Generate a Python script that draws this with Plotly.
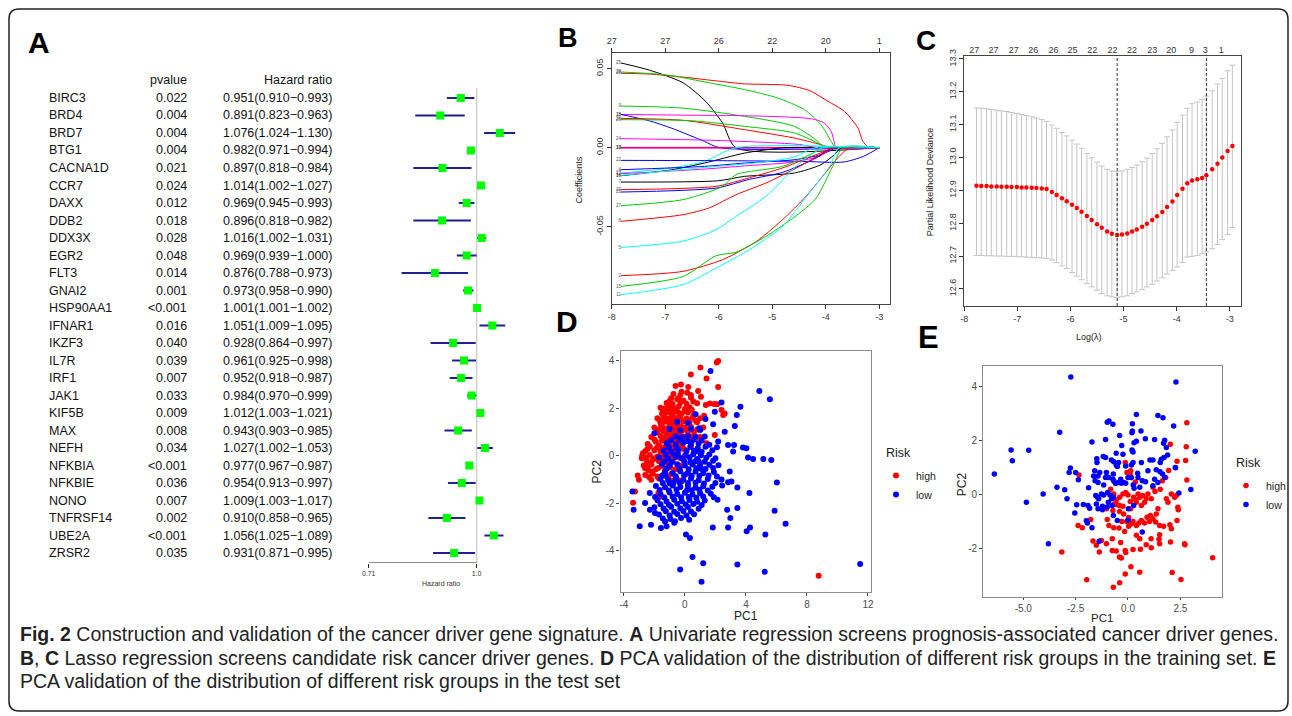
import plotly.graph_objects as go

W, H = 1292, 716
def PX(x): return x / W
def PY(y): return 1 - y / H

FONT = "Arial, 'Liberation Sans', sans-serif"

# ---------------- Panel A : univariate Cox forest plot ----------------
genes = ["BIRC3", "BRD4", "BRD7", "BTG1", "CACNA1D", "CCR7", "DAXX", "DDB2", "DDX3X", "EGR2",
         "FLT3", "GNAI2", "HSP90AA1", "IFNAR1", "IKZF3", "IL7R", "IRF1", "JAK1", "KIF5B", "MAX",
         "NEFH", "NFKBIA", "NFKBIE", "NONO", "TNFRSF14", "UBE2A", "ZRSR2"]
pvalues = ["0.022", "0.004", "0.004", "0.004", "0.021", "0.024", "0.012", "0.018", "0.028", "0.048",
           "0.014", "0.001", "<0.001", "0.016", "0.040", "0.039", "0.007", "0.033", "0.009", "0.008",
           "0.034", "<0.001", "0.036", "0.007", "0.002", "<0.001", "0.035"]
hr = [0.951, 0.891, 1.076, 0.982, 0.897, 1.014, 0.969, 0.896, 1.016, 0.969, 0.876, 0.973, 1.001, 1.051,
      0.928, 0.961, 0.952, 0.984, 1.012, 0.943, 1.027, 0.977, 0.954, 1.009, 0.910, 1.056, 0.931]
hr_lo = [0.910, 0.823, 1.024, 0.971, 0.818, 1.002, 0.945, 0.818, 1.002, 0.939, 0.788, 0.958, 1.001, 1.009,
         0.864, 0.925, 0.918, 0.970, 1.003, 0.903, 1.002, 0.967, 0.913, 1.003, 0.858, 1.025, 0.871]
hr_hi = [0.993, 0.963, 1.130, 0.994, 0.984, 1.027, 0.993, 0.982, 1.031, 1.000, 0.973, 0.990, 1.002, 1.095,
         0.997, 0.998, 0.987, 0.999, 1.021, 0.985, 1.053, 0.987, 0.997, 1.017, 0.965, 1.089, 0.995]
forest_ticks = [0.71, 1.0]
forest_ticktext = ["0.71", "1.0"]

# ---------------- Panel B : lasso coefficient paths ----------------
lasso_top_x = [-8, -7, -6, -5, -4, -3]
lasso_top_df = ["27", "27", "26", "22", "20", "1"]
lasso_labels = ["25", "28", "28", "9", "18", "18", "26", "26", "24", "19", "13", "10",
                "17", "16", "7", "22", "4", "12", "20", "23", "27", "8", "5", "2", "15", "11", "14"]
lasso_colors = ["#000000", "#FF0000", "#00CD00", "#00CD00", "#FF00FF", "#0000FF", "#FF0000", "#00CD00",
                "#FF00FF", "#000000", "#FF0000", "#FF00FF", "#00FFFF", "#000000", "#000000", "#0000FF",
                "#0000FF", "#FF00FF", "#FF0000", "#0000FF", "#00CD00", "#FF0000", "#00FFFF", "#FF0000",
                "#00CD00", "#00FFFF", "#00FFFF"]
lasso_x = [
    [-7.83, -7.30, -6.67, -6.24, -5.93, -5.68, -3.0],
    [-7.83, -7.30, -6.67, -6.0, -5.52, -4.71, -4.3, -3.96, -3.65, -3.40, -3.31, -3.22, -3.17, -3.0],
    [-7.83, -6.99, -6.18, -5.52, -4.90, -4.40, -4.09, -3.90, -3.81, -3.0],
    [-7.83, -6.67, -5.52, -4.59, -4.15, -4.03, -3.0],
    [-7.83, -6.5, -5.52, -4.28, -4.03, -3.90, -3.84, -3.81, -3.0],
    [-7.83, -7.30, -6.89, -6.27, -5.99, -3.0],
    [-7.83, -6.67, -5.52, -4.59, -4.09, -3.90, -3.0],
    [-7.83, -6.5, -5.52, -4.59, -4.09, -4.0, -3.0],
    [-7.83, -6.05, -4.49, -4.18, -3.0],
    [-7.83, -3.0],
    [-7.83, -3.0],
    [-7.83, -3.0],
    [-7.83, -6.89, -6.27, -5.68, -3.0],
    [-7.83, -6.89, -6.27, -5.52, -5.0, -4.78, -3.0],
    [-7.83, -6.02, -5.52, -4.59, -4.09, -3.84, -3.71, -3.0],
    [-7.83, -6.0, -4.5, -3.66, -3.3, -3.0],
    [-7.83, -6.27, -5.52, -4.59, -4.09, -3.78, -3.0],
    [-7.83, -6.27, -5.52, -4.59, -4.09, -3.87, -3.0],
    [-7.83, -6.05, -5.43, -4.81, -4.18, -3.81, -3.0],
    [-7.83, -6.05, -5.43, -4.81, -4.18, -3.87, -3.0],
    [-7.83, -6.67, -5.93, -5.68, -4.81, -4.18, -4.06, -3.0],
    [-7.83, -6.67, -6.18, -5.68, -5.12, -4.49, -4.06, -3.87, -3.0],
    [-7.83, -6.67, -6.05, -5.68, -5.12, -4.49, -4.18, -4.06, -3.0],
    [-7.83, -6.67, -5.93, -5.30, -4.81, -4.37, -4.06, -3.75, -3.56, -3.0],
    [-7.83, -6.67, -6.05, -5.68, -5.12, -4.49, -4.18, -3.87, -3.68, -3.0],
    [-7.83, -6.67, -6.05, -5.43, -4.81, -4.31, -3.93, -3.75, -3.0],
    [-7.83, -6.27, -5.34, -4.6, -4.2, -3.0],
]
lasso_y = [
    [0.0535, 0.049, 0.041, 0.029, 0.0156, 0.0, 0.0],
    [0.047, 0.0465, 0.0446, 0.042, 0.0403, 0.0394, 0.036, 0.0293, 0.0229, 0.0124, 0.004, 0.0008, 0.0, 0.0],
    [0.0478, 0.046, 0.041, 0.0367, 0.0314, 0.024, 0.0145, 0.004, 0.0, 0.0],
    [0.0263, 0.025, 0.0198, 0.0135, 0.004, 0.0, 0.0],
    [0.021, 0.0205, 0.0202, 0.0183, 0.0156, 0.0103, 0.003, 0.0, 0.0],
    [0.021, 0.017, 0.0124, 0.004, 0.0, 0.0],
    [0.0185, 0.0173, 0.0114, 0.0061, 0.0019, 0.0, 0.0],
    [0.0177, 0.017, 0.0135, 0.0093, 0.0019, 0.0, 0.0],
    [0.0057, 0.0046, 0.002, 0.0, 0.0],
    [0.0, 0.0],
    [0.0002, 0.0002],
    [-0.0002, -0.0002],
    [-0.016, -0.0128, -0.0087, 0.0, 0.0],
    [-0.0177, -0.0140, -0.0097, -0.0034, -0.0008, 0.0, 0.0],
    [-0.0217, -0.0209, -0.0181, -0.016, -0.0107, -0.0044, 0.0, 0.0],
    [-0.008, -0.0082, -0.0086, -0.009, -0.0055, 0.0],
    [-0.0139, -0.0118, -0.0097, -0.0076, -0.0044, 0.0, 0.0],
    [-0.0164, -0.0135, -0.0115, -0.009, -0.005, 0.0, 0.0],
    [-0.0265, -0.0244, -0.019, -0.0128, -0.0044, 0.0, 0.0],
    [-0.028, -0.0255, -0.020, -0.0156, -0.0065, 0.0, 0.0],
    [-0.0366, -0.0328, -0.0244, -0.017, -0.0118, -0.0023, 0.0, 0.0],
    [-0.0465, -0.0423, -0.038, -0.0297, -0.0223, -0.0118, -0.0034, 0.0, 0.0],
    [-0.063, -0.059, -0.0518, -0.0434, -0.0307, -0.0097, -0.0023, 0.0, 0.0],
    [-0.0808, -0.0781, -0.0707, -0.0592, -0.0455, -0.0307, -0.0181, -0.0055, 0.0, 0.0],
    [-0.0876, -0.0813, -0.0682, -0.066, -0.056, -0.0413, -0.0318, -0.0118, 0.0, 0.0],
    [-0.0928, -0.0865, -0.076, -0.0644, -0.0497, -0.0286, -0.0118, 0.0, 0.0],
    [-0.0175, -0.0125, -0.0097, -0.006, 0.0, 0.0],
]

# ---------------- Panel C : cross-validation curve ----------------
cv_loglam = [-7.77, -7.68, -7.58, -7.49, -7.39, -7.30, -7.20, -7.11, -7.01, -6.92, -6.83, -6.73, -6.64,
             -6.54, -6.45, -6.35, -6.26, -6.16, -6.07, -5.97, -5.88, -5.79, -5.69, -5.60, -5.50, -5.41,
             -5.31, -5.22, -5.12, -5.03, -4.93, -4.84, -4.75, -4.65, -4.56, -4.46, -4.37, -4.27, -4.18,
             -4.08, -3.99, -3.89, -3.80, -3.71, -3.61, -3.52, -3.44, -3.33, -3.23, -3.14, -3.04, -2.95]
cv_mean = [12.914, 12.913, 12.913, 12.912, 12.912, 12.911, 12.911, 12.910, 12.910, 12.909, 12.909, 12.908,
           12.907, 12.906, 12.904, 12.895, 12.886, 12.876, 12.867, 12.856, 12.846, 12.835, 12.822, 12.810,
           12.797, 12.786, 12.775, 12.768, 12.764, 12.766, 12.769, 12.775, 12.781, 12.789, 12.798, 12.810,
           12.821, 12.834, 12.849, 12.866, 12.886, 12.905, 12.922, 12.930, 12.934, 12.938, 12.946, 12.964,
           12.981, 13.000, 13.020, 13.035]
cv_upper = [13.151, 13.150, 13.148, 13.146, 13.144, 13.142, 13.140, 13.137, 13.134, 13.131, 13.128, 13.124,
            13.120, 13.116, 13.110, 13.099, 13.089, 13.076, 13.066, 13.053, 13.041, 13.028, 13.012, 12.999,
            12.986, 12.974, 12.964, 12.959, 12.957, 12.959, 12.964, 12.970, 12.977, 12.987, 12.998, 13.012,
            13.027, 13.043, 13.063, 13.084, 13.107, 13.129, 13.150, 13.164, 13.169, 13.177, 13.187, 13.203,
            13.224, 13.241, 13.264, 13.281]
cv_lower = [12.702, 12.702, 12.701, 12.701, 12.700, 12.700, 12.699, 12.699, 12.698, 12.698, 12.697, 12.696,
            12.695, 12.694, 12.693, 12.688, 12.680, 12.670, 12.662, 12.650, 12.639, 12.628, 12.616, 12.606,
            12.596, 12.586, 12.579, 12.576, 12.574, 12.576, 12.579, 12.586, 12.591, 12.598, 12.606, 12.614,
            12.624, 12.634, 12.645, 12.657, 12.667, 12.681, 12.697, 12.699, 12.702, 12.707, 12.713, 12.722,
            12.735, 12.750, 12.765, 12.787]
cv_top_x = [-7.81, -7.45, -7.07, -6.70, -6.32, -5.96, -5.59, -5.21, -4.84, -4.46, -4.10, -3.72, -3.46, -3.16]
cv_top_nz = ["27", "27", "27", "26", "26", "25", "22", "22", "22", "23", "20", "9", "3", "1"]
lambda_min = -5.12
lambda_1se = -3.44

# ---------------- Panel D : PCA training set ----------------
D_high = [
    (-1.6, 2.02), (-1.3, 1.95), (-1.0, 2.05), (-0.7, 1.98), (-0.4, 2.08), (0.0, 1.97), (0.3, 2.04),
    (-1.5, 1.78), (-1.1, 1.83), (-0.8, 1.76), (-0.5, 1.85), (-0.2, 1.79), (0.2, 1.82), (0.6, 1.75),
    (-1.8, 1.58), (-1.4, 1.63), (-1.2, 1.55), (-0.9, 1.62), (-0.6, 1.57), (-0.3, 1.64), (0.1, 1.56),
    (0.5, 1.61), (1.0, 1.58), (-1.6, 1.38), (-1.3, 1.43), (-1.0, 1.36), (-0.8, 1.42), (-0.5, 1.37),
    (-0.1, 1.44), (0.3, 1.39), (0.8, 1.41), (-2.0, 1.18), (-1.5, 1.23), (-1.1, 1.16), (-0.9, 1.22),
    (-0.6, 1.17), (-0.3, 1.24), (0.0, 1.19), (0.4, 1.21), (1.2, 1.18), (-1.8, 0.98), (-1.4, 1.03),
    (-1.2, 0.96), (-0.8, 1.02), (-0.5, 0.97), (-0.2, 1.04), (0.2, 0.99), (0.6, 1.01), (-2.2, 0.78),
    (-1.6, 0.83), (-1.3, 0.76), (-1.0, 0.82), (-0.7, 0.77), (-0.4, 0.84), (-0.1, 0.79), (0.5, 0.81),
    (1.0, 0.78), (-1.9, 0.58), (-1.5, 0.63), (-1.1, 0.56), (-0.9, 0.62), (-0.6, 0.57), (-0.3, 0.64),
    (0.3, 0.59), (-2.3, 0.38), (-1.7, 0.43), (-1.3, 0.36), (-1.0, 0.42), (-0.7, 0.37), (-0.2, 0.44),
    (0.4, 0.39), (-2.6, 0.18), (-2.0, 0.23), (-1.6, 0.16), (-1.2, 0.22), (-0.9, 0.17), (-0.5, 0.24),
    (0.1, 0.19), (-2.8, -0.02), (-2.3, 0.03), (-1.8, -0.04), (-1.4, 0.02), (-1.0, -0.03), (-0.6, 0.04),
    (0.0, -0.01), (-2.5, -0.22), (-2.1, -0.17), (-1.7, -0.24), (-1.2, -0.18), (-0.8, -0.23),
    (-2.7, -0.42), (-2.2, -0.37), (-1.5, -0.44), (-1.1, -0.38), (-0.3, -0.43), (-2.4, -0.62),
    (-1.9, -0.57), (-1.3, -0.64), (-0.6, -0.58), (-2.6, -0.82), (-2.1, -0.77), (-1.4, -0.84),
    (-0.9, -0.78), (-2.2, -1.02), (-1.7, -0.97), (-0.4, -1.04), (-1.2, 2.22), (-0.8, 2.18),
    (-0.3, 2.24), (0.1, 2.19), (0.8, 2.21), (-0.9, 2.42), (-0.5, 2.38), (0.4, 2.44), (-1.35, 1.7),
    (-0.95, 1.5), (-0.75, 1.3), (-1.25, 1.1), (-0.65, 0.9), (-1.15, 0.7), (-0.45, 0.5), (-1.45, 0.3),
    (-0.85, 1.9), (-0.35, 1.7),
    (-1.45, 1.9), (-1.15, 1.88), (-0.55, 1.92), (0.05, 1.87), (0.45, 1.93),
    (-1.65, 1.49), (-1.05, 1.52), (-0.45, 1.47), (0.25, 1.51), (0.7, 1.48),
    (-1.75, 1.08), (-1.35, 1.12), (-0.95, 1.07), (-0.4, 1.13), (0.1, 1.09), (0.8, 1.1),
    (-2.0, 0.68), (-1.45, 0.72), (-0.85, 0.7), (-0.25, 0.73), (0.15, 0.68), (0.7, 0.7),
    (-2.45, 0.28), (-1.85, 0.32), (-1.1, 0.29), (-0.6, 0.31), (-0.05, 0.28),
    (-2.55, -0.09), (-2.0, -0.12), (-1.55, -0.08), (-0.85, -0.11), (-0.3, -0.1),
    (-2.45, -0.49), (-1.75, -0.52), (-0.95, -0.5), (-2.35, -0.9), (-1.8, -0.88), (-1.1, -0.92),
    (-1.0, 2.3), (-0.1, 2.32), (0.55, 2.28), (-0.75, 2.6), (-0.3, 2.55), (0.15, 2.65),
    (2.18, 3.99), (2.09, 3.92), (1.02, 3.71), (0.39, 3.42), (1.42, 3.25), (-0.26, 3.00), (-0.61, 2.93),
    (2.18, 2.89), (0.22, 2.89), (0.87, 2.72), (-0.22, 2.69), (0.39, 2.55), (1.05, 2.48), (-0.44, 2.41),
    (1.37, 2.13), (1.63, 2.20), (1.92, 2.18), (2.11, 2.16), (2.40, 1.92), (2.61, 1.78), (2.51, 1.71),
    (1.26, 1.68), (-1.31, 1.99), (-1.57, 1.22), (-2.44, 0.49), (-2.75, 0.10), (-2.83, -0.11),
    (-2.61, -0.53), (-3.09, -0.84), (-3.01, -1.02), (-3.27, -1.51), (-3.40, -1.99), (-1.63, -1.72),
    (-1.74, -1.58), (-2.18, -0.67), (-2.35, -0.32), (-1.96, -0.11), (-1.42, -0.81), (-0.87, -1.06),
    (-0.22, -1.09), (0.11, -0.78), (0.98, -0.32), (1.42, 0.52), (1.96, 0.87), (8.77, -5.06),
]
D_low = [
    (-0.6, 0.82), (-0.2, 0.77), (0.2, 0.84), (0.7, 0.79), (1.3, 0.81), (-1.2, 0.52), (-0.6, 0.47),
    (-0.1, 0.54), (0.4, 0.49), (0.9, 0.51), (1.6, 0.46), (-1.4, 0.22), (-0.9, 0.17), (-0.4, 0.24),
    (0.1, 0.19), (0.6, 0.21), (1.1, 0.16), (1.8, 0.23), (-1.7, -0.08), (-1.1, -0.13), (-0.6, -0.06),
    (-0.2, -0.12), (0.3, -0.07), (0.8, -0.14), (1.4, -0.09), (2.0, -0.11), (-1.5, -0.38), (-1.0, -0.43),
    (-0.5, -0.36), (0.0, -0.42), (0.5, -0.37), (1.0, -0.44), (1.6, -0.39), (2.2, -0.41), (-1.3, -0.68),
    (-0.8, -0.73), (-0.3, -0.66), (0.2, -0.72), (0.7, -0.67), (1.2, -0.74), (1.9, -0.69), (-1.6, -0.98),
    (-1.1, -1.03), (-0.6, -0.96), (-0.1, -1.02), (0.4, -0.97), (0.9, -1.04), (1.5, -0.99), (2.4, -1.01),
    (-1.9, -1.28), (-1.3, -1.33), (-0.8, -1.26), (-0.3, -1.32), (0.2, -1.27), (0.7, -1.34), (1.2, -1.29),
    (1.8, -1.31), (-2.3, -1.58), (-1.6, -1.63), (-1.0, -1.56), (-0.5, -1.62), (0.0, -1.57), (0.5, -1.64),
    (1.0, -1.59), (1.7, -1.61), (-1.8, -1.88), (-1.2, -1.93), (-0.7, -1.86), (-0.2, -1.92), (0.3, -1.87),
    (0.8, -1.94), (1.3, -1.89), (-2.0, -2.18), (-1.4, -2.23), (-0.9, -2.16), (-0.3, -2.22), (0.2, -2.17),
    (0.9, -2.24), (-1.7, -2.48), (-1.0, -2.53), (-0.5, -2.46), (0.1, -2.52), (0.6, -2.47), (-1.3, -2.78),
    (-0.7, -2.83), (-1.0, 1.12), (-0.3, 1.07), (0.4, 1.13), (1.0, 1.08), (-0.5, 1.42), (0.2, 1.37),
    (-0.35, -0.55), (0.45, -0.85), (-0.75, -1.15), (0.15, -1.45), (0.65, -0.25), (-0.45, 0.05),
    (1.05, -0.55), (-1.25, -0.85),
    (-0.9, 0.65), (-0.35, 0.68), (0.15, 0.62), (0.55, 0.66), (1.1, 0.64),
    (-1.05, 0.35), (-0.55, 0.33), (0.35, 0.36), (0.85, 0.32), (1.35, 0.37), (2.1, 0.35),
    (-1.25, 0.04), (-0.75, 0.07), (0.05, 0.03), (0.55, 0.06), (1.05, 0.02), (1.6, 0.05),
    (-1.35, -0.25), (-0.85, -0.27), (-0.05, -0.23), (0.35, -0.28), (0.9, -0.24), (1.3, -0.26), (1.85, -0.22),
    (-1.2, -0.55), (0.25, -0.57), (0.75, -0.53), (1.35, -0.56), (1.85, -0.52),
    (-1.5, -0.85), (-0.6, -0.87), (-0.05, -0.83), (0.95, -0.86), (1.55, -0.84), (2.1, -0.88),
    (-1.45, -1.15), (-1.0, -1.17), (-0.35, -1.13), (0.2, -1.16), (0.7, -1.14), (1.25, -1.18), (2.0, -1.15),
    (-1.65, -1.45), (-1.05, -1.47), (-0.55, -1.43), (0.45, -1.46), (0.95, -1.44), (1.5, -1.47),
    (-1.95, -1.75), (-1.35, -1.77), (-0.8, -1.73), (-0.25, -1.76), (0.25, -1.74), (0.75, -1.78), (1.2, -1.72),
    (-1.6, -2.05), (-1.05, -2.07), (-0.5, -2.03), (0.05, -2.06), (0.55, -2.04), (1.1, -2.08),
    (-1.25, -2.35), (-0.7, -2.37), (-0.1, -2.33), (0.4, -2.36), (-1.45, -2.65), (-0.95, -2.67), (-0.25, -2.63),
    (1.68, 3.57), (4.88, 2.72), (3.64, 2.06), (3.40, 1.71), (3.27, 1.25), (2.40, 2.24), (1.96, 1.85),
    (2.61, 1.01), (2.83, 0.45), (3.16, 0.17), (3.22, 0.45), (3.81, 0.34), (4.03, 0.31), (4.14, -0.08),
    (4.47, -0.14), (5.14, -0.14), (2.94, -0.67), (3.05, -1.09), (2.83, -1.12), (3.44, -1.34),
    (4.23, -1.58), (2.44, -1.26), (2.14, -1.86), (1.90, -1.76), (2.77, -2.28), (3.44, -2.21),
    (2.98, -2.63), (1.83, -3.03), (2.83, -3.03), (4.27, -3.03), (4.05, -3.19), (5.27, -3.33),
    (-3.36, -2.28), (-2.96, -2.98), (-2.22, -2.91), (-3.44, -1.51), (-2.61, -2.00), (-2.29, -2.28),
    (-1.96, -2.42), (-1.57, -3.05), (-1.20, -2.98), (-0.65, -2.77), (0.28, -2.70), (0.07, -3.33),
    (0.33, -3.47), (0.50, -4.27), (1.20, -4.54), (-0.31, -4.80), (1.09, -5.32), (3.44, -4.59),
    (5.23, -4.90), (-2.00, 0.94), (0.87, 0.17), (0.94, 1.15), (0.70, 1.74), (1.35, 1.54), (1.85, 1.32),
    (2.18, 0.59), (5.57, 2.38), (5.66, -0.18), (6.03, -1.13), (5.88, -2.32), (6.60, -2.87),
    (11.49, -4.57),
]

# ---------------- Panel E : PCA test set ----------------
E_high = [
    (2.81, 2.64), (2.02, 1.84), (2.78, 1.75), (2.75, 1.24), (2.34, 1.21), (2.81, 0.52), (1.94, 0.87),
    (1.80, 0.61), (1.64, 0.49), (1.54, 0.18), (1.19, 0.25), (1.29, 0.09), (0.95, 0.0), (1.11, -0.18),
    (0.70, -0.06), (0.57, -0.12), (0.37, -0.21), (0.27, -0.12), (0.40, -0.31), (0.79, -0.31),
    (0.64, -0.43), (0.11, -0.28), (-0.11, 0.06), (-0.24, 0.0), (-0.40, -0.12), (-0.56, -0.22),
    (-0.68, 0.0), (-0.83, 0.18), (-0.13, 1.17), (-0.05, 0.80), (0.13, 0.86), (0.11, 0.70), (0.35, 0.44),
    (-2.34, 0.70), (2.31, -0.06), (2.38, -0.49), (2.40, -0.58), (2.34, -0.98), (2.23, -0.12),
    (1.43, -0.55), (1.35, -0.74), (1.07, -0.80), (0.91, -0.86), (1.19, -0.92), (0.64, -0.98),
    (0.52, -1.07), (0.79, -1.07), (0.40, -1.17), (0.16, -1.10), (-0.06, -1.02), (0.03, -0.87),
    (-0.21, -0.74), (-0.40, -0.65), (-0.72, -0.61), (-0.99, -0.94), (-1.78, -0.94), (-2.38, -1.17),
    (-2.18, -1.25), (-0.91, -1.17), (-0.68, -1.25), (-0.43, -1.26), (-0.29, -1.02), (-0.16, -1.39),
    (0.03, -1.19), (0.24, -1.02), (1.03, -1.02), (1.32, -1.04), (1.51, -1.17), (1.70, -1.19),
    (2.00, -1.14), (2.07, -1.29), (1.51, -1.51), (1.10, -1.66), (1.48, -1.68), (1.51, -1.84),
    (1.11, -1.99), (2.03, -1.78), (2.70, -1.84), (2.72, -1.88), (-1.67, -1.74), (-1.51, -1.90),
    (-1.27, -1.72), (-1.03, -1.84), (-0.75, -1.66), (-0.35, -1.80), (-0.56, -2.11), (-0.75, -2.09),
    (-0.41, -2.33), (-0.32, -2.37), (-0.11, -2.17), (-0.13, -2.09), (0.24, -2.06), (0.59, -2.05),
    (-3.16, -2.15), (-1.37, -2.15), (4.04, -2.36), (0.14, -2.69), (-0.13, -2.96), (0.56, -2.90),
    (2.11, -2.91), (2.53, -3.17), (-1.97, -3.18), (-0.40, -3.29), (-0.70, -3.45), (0.87, -1.88),
    (0.40, -1.53), (0.56, -1.66), (0.13, -0.55), (-0.24, -0.45), (-0.40, -0.43), (-0.52, -0.40),
    (0.0, -0.04), (0.48, 0.0), (0.87, -0.18), (1.83, -0.18), (1.91, -0.31), (2.07, 0.0), (-1.03, -0.55),
    (-1.19, -0.50), (-0.64, -0.37),
]
E_low = [
    (-2.73, 4.33), (2.29, 4.15), (0.40, 2.94), (1.43, 2.91), (1.67, 2.82), (-0.99, 2.66), (-0.91, 2.70),
    (-0.72, 2.58), (0.21, 2.60), (2.18, 2.52), (-3.26, 2.29), (0.21, 2.33), (0.19, 2.27), (0.62, 2.33),
    (-1.07, 2.02), (-0.40, 2.17), (-1.72, 1.93), (0.29, 1.90), (0.40, 1.95), (0.83, 2.05), (1.27, 2.02),
    (1.75, 1.99), (1.70, 1.88), (-5.58, 1.63), (-4.74, 1.62), (0.19, 1.63), (0.24, 1.56), (3.21, 1.58),
    (-5.52, 1.23), (-0.30, 1.80), (-0.56, 1.51), (-0.24, 1.47), (-1.18, 1.39), (-1.07, 1.35),
    (-0.79, 1.26), (-0.68, 1.19), (-1.49, 1.31), (-1.48, 1.17), (-0.45, 1.17), (-0.56, 1.07),
    (-0.51, 1.02), (-0.11, 1.04), (0.16, 1.07), (0.24, 1.17), (0.64, 1.17), (1.05, 1.26), (1.19, 1.26),
    (1.54, 1.17), (1.59, 1.29), (1.72, 1.35), (1.89, 1.44), (-2.75, 0.96), (-2.81, 0.80), (-2.50, 0.80),
    (-6.38, 0.74), (-1.59, 0.86), (-1.64, 0.67), (-1.43, 0.67), (-1.35, 0.80), (-1.03, 0.80),
    (-0.92, 0.61), (-1.07, 0.61), (-0.70, 0.74), (-0.72, 0.55), (0.0, 0.61), (0.16, 0.61), (0.46, 0.77),
    (0.48, 0.61), (0.68, 0.49), (0.95, 0.86), (1.35, 0.90), (1.53, 0.82), (1.65, 0.74), (2.26, 0.98),
    (-2.37, 0.53), (-1.57, 0.49), (-1.43, 0.43), (-1.16, 0.33), (-0.67, 0.47), (-0.59, 0.39),
    (-0.45, 0.43), (-0.32, 0.40), (-0.21, 0.43), (-0.11, 0.40), (-0.35, 0.55), (0.25, 0.33), (0.29, 0.21),
    (0.56, 0.25), (0.84, 0.45), (1.19, 0.31), (1.27, 0.55), (-3.39, 0.25), (-3.02, 0.16), (-1.88, 0.23),
    (-2.91, -0.18), (-4.05, 0.0), (-4.85, -0.31), (-1.54, -0.06), (-1.46, -0.12), (-1.27, 0.0),
    (-1.16, -0.04), (-0.97, 0.06), (-0.86, -0.04), (-0.70, -0.12), (-0.78, -0.18), (-0.94, -0.31),
    (-1.40, -0.18), (-1.51, -0.37), (-2.13, -0.39), (-2.45, -0.40), (-1.91, -0.43), (-1.83, -0.53),
    (-1.43, -0.55), (-1.22, -0.58), (-1.22, -0.45), (-0.99, -0.48), (-0.75, -0.43), (-2.54, -0.70),
    (-0.70, -0.80), (0.02, -0.55), (0.27, -0.43), (-1.99, -0.99), (-1.94, -1.07), (-1.72, -1.25),
    (-0.51, -0.98), (0.0, -0.96), (0.68, -1.41), (-1.38, -1.75), (-3.80, -1.84), (2.43, 0.04),
    (3.00, 0.17), (2.27, 0.97), (1.83, 1.72), (1.43, 0.43), (1.75, 0.61),
]

# ======================= FIGURE =======================
fig = go.Figure()

# ---- A
rows = list(range(len(genes)))
ci_x, ci_y = [], []
for i in rows:
    ci_x += [hr_lo[i], hr_hi[i], None]
    ci_y += [i, i, None]
fig.add_trace(go.Scatter(x=ci_x, y=ci_y, mode="lines", line=dict(color="#1f1f96", width=2),
                         xaxis="x", yaxis="y", showlegend=False, hoverinfo="skip"))
fig.add_trace(go.Scatter(x=hr, y=rows, mode="markers",
                         marker=dict(symbol="square", size=8, color="#00ff00", line=dict(width=0)),
                         xaxis="x", yaxis="y", showlegend=False))

# ---- B
for lbl, col, xs, ys in zip(lasso_labels, lasso_colors, lasso_x, lasso_y):
    fig.add_trace(go.Scatter(x=xs, y=ys, mode="lines",
                             line=dict(color=col, width=1, shape="spline", smoothing=0.7),
                             xaxis="x2", yaxis="y2", showlegend=False, hoverinfo="skip"))
fig.add_trace(go.Scatter(x=[xs[0] for xs in lasso_x], y=[ys[0] for ys in lasso_y], mode="text",
                         text=lasso_labels, textposition="middle left",
                         textfont=dict(size=4.5, color="#555", family=FONT),
                         xaxis="x2", yaxis="y2", showlegend=False, cliponaxis=False))
# helper (invisible) trace so the top "df" axis of B is drawn
fig.add_trace(go.Scatter(x=lasso_top_x, y=[0] * len(lasso_top_x), mode="markers",
                         marker=dict(size=1, opacity=0), xaxis="x3", yaxis="y2",
                         showlegend=False, hoverinfo="skip"))

# ---- C
err_up = [u - m for u, m in zip(cv_upper, cv_mean)]
err_dn = [m - l for m, l in zip(cv_mean, cv_lower)]
fig.add_trace(go.Scatter(x=cv_loglam, y=cv_mean, mode="markers",
                         marker=dict(color="#ff0000", size=4.5),
                         error_y=dict(type="data", symmetric=False, array=err_up, arrayminus=err_dn,
                                      color="#c4c4c4", thickness=1, width=3),
                         xaxis="x4", yaxis="y4", showlegend=False))
fig.add_trace(go.Scatter(x=cv_top_x, y=[12.9] * len(cv_top_x), mode="markers",
                         marker=dict(size=1, opacity=0), xaxis="x5", yaxis="y4",
                         showlegend=False, hoverinfo="skip"))

# ---- D
fig.add_trace(go.Scatter(x=[p[0] for p in D_high], y=[p[1] for p in D_high], mode="markers",
                         marker=dict(color="#ff0000", size=6), name="high",
                         xaxis="x6", yaxis="y6", legend="legend"))
fig.add_trace(go.Scatter(x=[p[0] for p in D_low], y=[p[1] for p in D_low], mode="markers",
                         marker=dict(color="#0000ff", size=6), name="low",
                         xaxis="x6", yaxis="y6", legend="legend"))
# ---- E
fig.add_trace(go.Scatter(x=[p[0] for p in E_high], y=[p[1] for p in E_high], mode="markers",
                         marker=dict(color="#ff0000", size=5.5), name="high",
                         xaxis="x7", yaxis="y7", legend="legend2"))
fig.add_trace(go.Scatter(x=[p[0] for p in E_low], y=[p[1] for p in E_low], mode="markers",
                         marker=dict(color="#0000ff", size=5.5), name="low",
                         xaxis="x7", yaxis="y7", legend="legend2"))

r_tick = dict(ticks="outside", ticklen=4, tickcolor="#333", tickfont=dict(size=9, color="#333", family=FONT),
              showgrid=False, zeroline=False, automargin=False)
g_tick = dict(ticks="outside", tickcolor="#444", tickfont=dict(size=10, color="#4d4d4d", family=FONT),
              showgrid=False, zeroline=False, showline=True, mirror=True, linecolor="#8c8c8c", linewidth=1.3,
              automargin=False)

fig.update_layout(
    template="none",
    width=W, height=H, margin=dict(l=0, r=0, t=0, b=0, pad=0), autosize=False,
    paper_bgcolor="white", plot_bgcolor="white",
    font=dict(family=FONT, color="#111"),
    # A
    xaxis=dict(type="log", domain=[PX(355), PX(530)], range=[-0.168, 0.073], anchor="y",
               tickvals=forest_ticks, ticktext=forest_ticktext, ticks="outside", ticklen=4,
               tickcolor="#222", tickfont=dict(size=7, color="#333"), showgrid=False,
               zeroline=False, showline=False, automargin=False),
    yaxis=dict(domain=[PY(563), PY(88)], range=[26.571, -0.571], anchor="x", visible=False,
               automargin=False, showgrid=False, zeroline=False),
    # B
    xaxis2=dict(domain=[PX(612), PX(891)], range=[-8.006, -2.795], anchor="y2",
                tickvals=lasso_top_x, ticktext=[str(v) for v in lasso_top_x],
                showline=True, mirror=True, linecolor="#444", linewidth=1, **r_tick),
    yaxis2=dict(domain=[PY(304), PY(53)], range=[-0.0987, 0.0598], anchor="x2",
                tickvals=[-0.05, 0.0, 0.05], ticktext=["-0.05", "0.00", "0.05"], tickangle=-90,
                showline=True, mirror=True, linecolor="#444", linewidth=1, **r_tick),
    xaxis3=dict(overlaying="x2", side="top", anchor="y2", range=[-8.006, -2.795],
                tickvals=lasso_top_x, ticktext=lasso_top_df, showline=False, **r_tick),
    # C
    xaxis4=dict(domain=[PX(965), PX(1242)], range=[-8.0, -2.787], anchor="y4",
                tickvals=[-8, -7, -6, -5, -4, -3], ticktext=["-8", "-7", "-6", "-5", "-4", "-3"],
                showline=True, mirror=True, linecolor="#444", linewidth=1, **r_tick),
    yaxis4=dict(domain=[PY(306), PY(56)], range=[12.548, 13.309], anchor="x4",
                tickvals=[12.6, 12.7, 12.8, 12.9, 13.0, 13.1, 13.2, 13.3],
                ticktext=["12.6", "12.7", "12.8", "12.9", "13.0", "13.1", "13.2", "13.3"], tickangle=-90,
                showline=True, mirror=True, linecolor="#444", linewidth=1, **r_tick),
    xaxis5=dict(overlaying="x4", side="top", anchor="y4", range=[-8.0, -2.787],
                tickvals=cv_top_x, ticktext=cv_top_nz, showline=False, ticks="", showgrid=False,
                zeroline=False, automargin=False, tickfont=dict(size=9, color="#333", family=FONT)),
    # D
    xaxis6=dict(domain=[PX(621), PX(872)], range=[-4.22, 12.22], anchor="y6", ticklen=3,
                tickvals=[-4, 0, 4, 8, 12], ticktext=["-4", "0", "4", "8", "12"], **g_tick),
    yaxis6=dict(domain=[PY(592), PY(351)], range=[-5.75, 4.41], anchor="x6", ticklen=3,
                tickvals=[-4, -2, 0, 2, 4], ticktext=["-4", "-2", "0", "2", "4"], **g_tick),
    # E
    xaxis7=dict(domain=[PX(984), PX(1223)], range=[-6.91, 4.49], anchor="y7", ticklen=2,
                tickvals=[-5, -2.5, 0, 2.5], ticktext=["-5.0", "-2.5", "0.0", "2.5"], **g_tick),
    yaxis7=dict(domain=[PY(597), PY(366)], range=[-3.815, 4.741], anchor="x7", ticklen=3,
                tickvals=[-2, 0, 2, 4], ticktext=["-2", "0", "2", "4"], **g_tick),
    legend=dict(x=PX(876), y=PY(461), xanchor="left", yanchor="top", bgcolor="rgba(0,0,0,0)",
                font=dict(size=10.5, color="#222", family=FONT), tracegroupgap=0, borderwidth=0),
    legend2=dict(x=PX(1227), y=PY(471), xanchor="left", yanchor="top", bgcolor="rgba(0,0,0,0)",
                 font=dict(size=10.5, color="#222", family=FONT), tracegroupgap=0, borderwidth=0),
    showlegend=True,
)

ann = []
def add_text(text, x, y, size, xanchor="center", yref="paper", color="#111", angle=0, family=FONT):
    ann.append(dict(x=x, y=y, xref="paper", yref=yref, text=text, xanchor=xanchor, yanchor="middle",
                    textangle=angle, showarrow=False, font=dict(size=size, color=color, family=family)))

# A texts
for i, g in enumerate(genes):
    add_text(g, PX(47), i, 12.5, xanchor="left", yref="y")
    add_text(pvalues[i], PX(189), i, 12.5, xanchor="right", yref="y")
    add_text(f"{hr[i]:.3f}({hr_lo[i]:.3f}\u2212{hr_hi[i]:.3f})", PX(334), i, 12.5, xanchor="right", yref="y")
add_text("pvalue", PX(189), PY(80), 12.5, xanchor="right")
add_text("Hazard ratio", PX(334), PY(80), 12.5, xanchor="right")
add_text("Hazard ratio", PX(441), PY(583), 7, color="#333")
# B / C axis titles
add_text("Coefficients", PX(579), PY(180), 9, color="#222", angle=-90)
add_text("Partial Likelihood Deviance", PX(931), PY(182), 9, color="#222", angle=-90)
add_text("Log(\u03bb)", PX(1090), PY(337), 9, color="#222")
# D / E axis titles & legend titles
add_text("PC1", PX(747), PY(616), 12, color="#222")
add_text("PC2", PX(597), PY(472), 12, color="#222", angle=-90)
add_text("PC1", PX(1103), PY(618), 11.5, color="#222")
add_text("PC2", PX(963), PY(484), 12, color="#222", angle=-90)
add_text("Risk", PX(885), PY(453), 12.5, xanchor="left", color="#222")
add_text("Risk", PX(1235), PY(463), 12.5, xanchor="left", color="#222")
# Panel letters
for letter, x, y, s in [("A", 39, 43, 30), ("B", 568, 38, 27), ("C", 927, 40, 28),
                        ("D", 567, 321, 30), ("E", 929, 337, 31)]:
    add_text(f"<b>{letter}</b>", PX(x), PY(y), s, color="#000")
# Caption
captions = [
    "<b>Fig. 2</b> Construction and validation of the cancer driver gene signature. <b>A</b> Univariate regression screens prognosis-associated cancer driver genes.",
    "<b>B</b>, <b>C</b> Lasso regression screens candidate risk cancer driver genes. <b>D</b> PCA validation of the distribution of different risk groups in the training set. <b>E</b>",
    "PCA validation of the distribution of different risk groups in the test set",
]
for txt, y in zip(captions, [634, 658, 681]):
    add_text(txt, PX(18), PY(y), 19.5, xanchor="left", color="#222")
fig.update_layout(annotations=ann)

# Shapes
shapes = [
    dict(type="line", xref="x", yref="y", x0=1.0, x1=1.0, y0=-0.571, y1=26.571,
         line=dict(color="#cfcfcf", width=1.5), layer="below"),
    dict(type="line", xref="x", yref="y", x0=forest_ticks[0], x1=forest_ticks[1], y0=26.571, y1=26.571,
         line=dict(color="#222", width=1)),
    dict(type="line", xref="x4", yref="y4 domain", x0=lambda_min, x1=lambda_min, y0=0, y1=1,
         line=dict(color="#333", width=1, dash="3px,2px")),
    dict(type="line", xref="x4", yref="y4 domain", x0=lambda_1se, x1=lambda_1se, y0=0, y1=1,
         line=dict(color="#333", width=1, dash="3px,2px")),
]
x0f, y0f, x1f, y1f, r = 9, 9, 1289, 711, 10
path = (f"M {PX(x0f + r)},{PY(y0f)} L {PX(x1f - r)},{PY(y0f)} Q {PX(x1f)},{PY(y0f)} {PX(x1f)},{PY(y0f + r)} "
        f"L {PX(x1f)},{PY(y1f - r)} Q {PX(x1f)},{PY(y1f)} {PX(x1f - r)},{PY(y1f)} "
        f"L {PX(x0f + r)},{PY(y1f)} Q {PX(x0f)},{PY(y1f)} {PX(x0f)},{PY(y1f - r)} "
        f"L {PX(x0f)},{PY(y0f + r)} Q {PX(x0f)},{PY(y0f)} {PX(x0f + r)},{PY(y0f)} Z")
shapes.append(dict(type="path", xref="paper", yref="paper", path=path, line=dict(color="#222", width=1.5)))
fig.update_layout(shapes=shapes)

fig.write_html("out.html")
